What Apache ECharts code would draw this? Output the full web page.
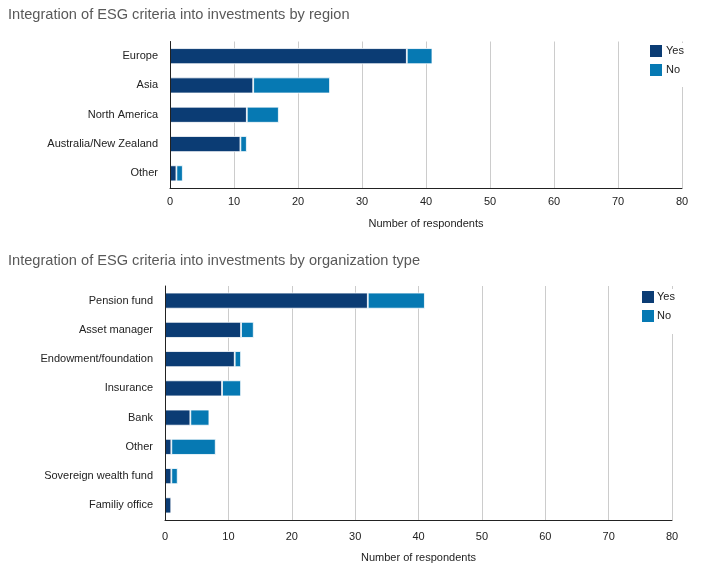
<!DOCTYPE html>
<html>
<head>
<meta charset="utf-8">
<script src="https://cdn.jsdelivr.net/npm/echarts@6/dist/echarts.min.js"></script>
<style>
html,body{margin:0;padding:0;background:#fff;}
#c{width:706px;height:582px;}
</style>
</head>
<body>
<div id="c"></div>
<script>
const regionCategories = ['Europe', 'Asia', 'North America', 'Australia/New Zealand', 'Other'];
const regionYes = [37, 13, 12, 11, 1];
const regionNo = [4, 12, 5, 1, 1];

const orgCategories = ['Pension fund', 'Asset manager', 'Endowment/foundation', 'Insurance', 'Bank', 'Other', 'Sovereign wealth fund', 'Familiy office'];
const orgYes = [32, 12, 11, 9, 4, 1, 1, 1];
const orgNo = [9, 2, 1, 3, 3, 7, 1, 0];

const xTicks = [0, 10, 20, 30, 40, 50, 60, 70, 80];

const FONT = 'Liberation Sans';
const DARK = '#0b3c74';
const LIGHT = '#0679b3';

const chart = echarts.init(document.getElementById('c'), null, {renderer: 'canvas'});

function xAxisCfg(gridIndex, margin, nameGap) {
  return {
    type: 'value', gridIndex: gridIndex,
    min: xTicks[0], max: xTicks[xTicks.length - 1], interval: xTicks[1] - xTicks[0],
    name: 'Number of respondents', nameLocation: 'middle', nameGap: nameGap,
    nameTextStyle: {fontFamily: FONT, fontSize: 11, color: '#222'},
    axisLine: {show: true, lineStyle: {color: '#222', width: 1}},
    axisTick: {show: false},
    axisLabel: {fontFamily: FONT, fontSize: 11, color: '#222', margin: margin},
    splitLine: {show: true, lineStyle: {color: '#cccccc', width: 1}}
  };
}
function yAxisCfg(gridIndex, cats) {
  return {
    type: 'category', gridIndex: gridIndex, data: cats, inverse: true, z: 5,
    axisLine: {show: true, lineStyle: {color: '#222', width: 1}},
    axisTick: {show: false},
    axisLabel: {fontFamily: FONT, fontSize: 11, color: '#222', margin: 12},
    splitLine: {show: false}
  };
}
function barSeries(name, data, idx, stack, color) {
  return {
    name: name, type: 'bar', stack: stack, data: data,
    xAxisIndex: idx, yAxisIndex: idx, barWidth: 16,
    itemStyle: {color: color, borderColor: '#ffffff', borderWidth: 0.8},
    emphasis: {disabled: true}
  };
}

chart.setOption({
  animation: false,
  backgroundColor: '#ffffff',
  title: [
    {text: 'Integration of ESG criteria into investments by region', left: 3, top: 2,
     textStyle: {fontFamily: FONT, fontSize: 14.6, fontWeight: 'normal', color: '#595959'}},
    {text: 'Integration of ESG criteria into investments by organization type', left: 3, top: 248,
     textStyle: {fontFamily: FONT, fontSize: 14.6, fontWeight: 'normal', color: '#595959'}}
  ],
  legend: [
    {data: ['Yes', 'No'], orient: 'vertical', left: 648, top: 43, itemWidth: 14, itemHeight: 14, itemGap: 3,
     padding: [0, 14, 9, 0], backgroundColor: '#ffffff', icon: 'rect',
     textStyle: {fontFamily: FONT, fontSize: 11, color: '#222', padding: [0, 0, 0, -2], lineHeight: 14},
     selectedMode: false, z: 10},
    {data: ['Yes ', 'No '], orient: 'vertical', left: 640, top: 289, itemWidth: 14, itemHeight: 14, itemGap: 3,
     padding: [0, 14, 10, 0], backgroundColor: '#ffffff', icon: 'rect',
     textStyle: {fontFamily: FONT, fontSize: 11, color: '#222', padding: [0, 0, 0, -3], lineHeight: 14},
     selectedMode: false, z: 10}
  ],
  grid: [
    {left: 170, width: 512, top: 41.5, height: 146.5},
    {left: 165, width: 507, top: 286, height: 234}
  ],
  xAxis: [xAxisCfg(0, 8, 30), xAxisCfg(1, 11, 32)],
  yAxis: [yAxisCfg(0, regionCategories), yAxisCfg(1, orgCategories)],
  series: [
    barSeries('Yes', regionYes, 0, 'r', DARK),
    barSeries('No', regionNo, 0, 'r', LIGHT),
    barSeries('Yes ', orgYes, 1, 'o', DARK),
    barSeries('No ', orgNo, 1, 'o', LIGHT)
  ]
});
</script>
</body>
</html>
